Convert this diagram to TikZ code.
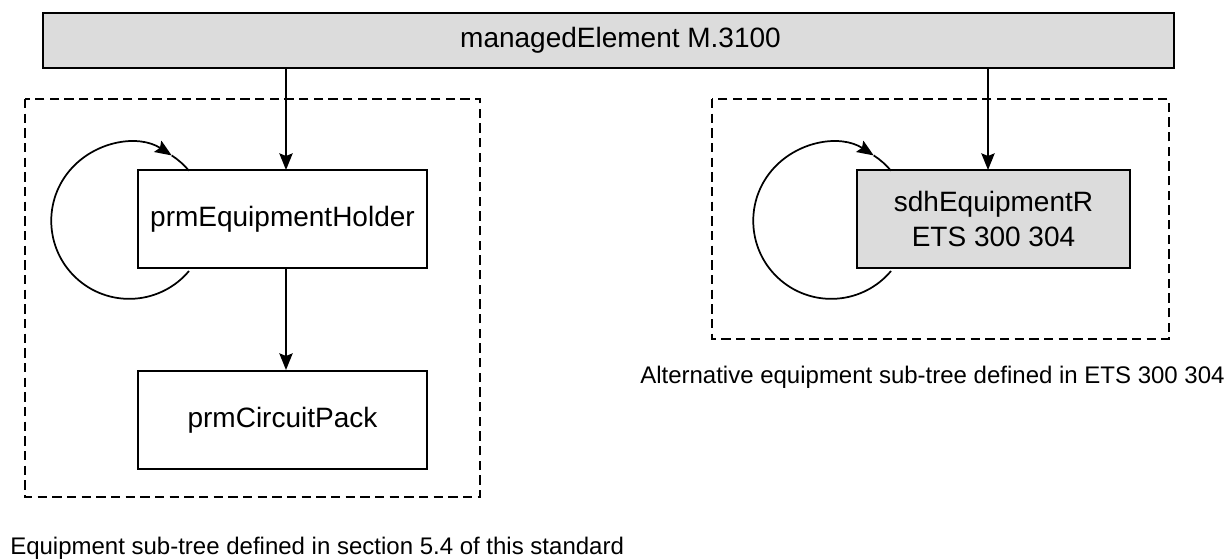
\documentclass[tikz,border=0pt]{standalone}
\usepackage{fontspec}
\setmainfont{Liberation Sans}
\usetikzlibrary{arrows.meta}
\definecolor{boxgray}{HTML}{DCDCDC}
\tikzset{
  objbox/.style={draw=black, line width=1.5pt, rectangle, inner sep=0pt,
    minimum width=216.75pt, minimum height=73.5pt, align=center,
    font=\fontsize{21}{24}\selectfont},
  grayfill/.style={fill=boxgray},
  arr/.style={line width=1.3pt, -{Stealth[length=12.5pt,width=10pt,inset=2pt]}},
  plain/.style={line width=1.3pt},
  groupbox/.style={draw=black, line width=2.1pt, dash pattern=on 7pt off 4pt},
  caption/.style={anchor=west, inner sep=0pt, font=\fontsize{18}{21}\selectfont}
}
\begin{document}
\begin{tikzpicture}[x=0.75pt, y=-0.75pt]
\useasboundingbox (0,0) rectangle (1232,560);

% dashed group frames
\draw[groupbox] (25,99) rectangle (480,497);
\draw[groupbox] (712,99) rectangle (1169,339);

% object classes
\node[objbox, grayfill, minimum width=848.25pt, minimum height=41.25pt]
  (managed) at (608.5,40.5) {\hspace*{18pt}managedElement M.3100};
\node[objbox] (holder) at (282.5,219) {prmEquipmentHolder};
\node[objbox] (pack) at (282.5,420) {prmCircuitPack};
\node[objbox, grayfill, minimum width=204.75pt] (sdh) at (993.5,219)
  {sdhEquipmentR\\[2pt]ETS 300 304};

% containment arrows
\coordinate (hin) at (286,170);
\coordinate (sin) at (988,170);
\draw[arr] (managed.south -| hin) -- (hin);
\draw[arr] (managed.south -| sin) -- (sin);
\draw[arr] (holder.south -| hin) -- (pack.north -| hin);

% recursive containment loops
\draw[arr] (holder.south west) ++(52,2) arc[start angle=40, end angle=303, radius=78]
  coordinate (htip);
\draw[plain] (htip) arc[start angle=303, end angle=320, radius=78];
\draw[arr] (sdh.south west) ++(35,2) arc[start angle=40, end angle=303, radius=78]
  coordinate (stip);
\draw[plain] (stip) arc[start angle=303, end angle=320, radius=78];

% captions
\node[caption] (capL) at (10,548) {Equipment sub-tree defined in section 5.4 of this standard};
\node[caption] (capR) at (640,377) {Alternative equipment sub-tree defined in ETS 300 304};
\end{tikzpicture}
\end{document}
